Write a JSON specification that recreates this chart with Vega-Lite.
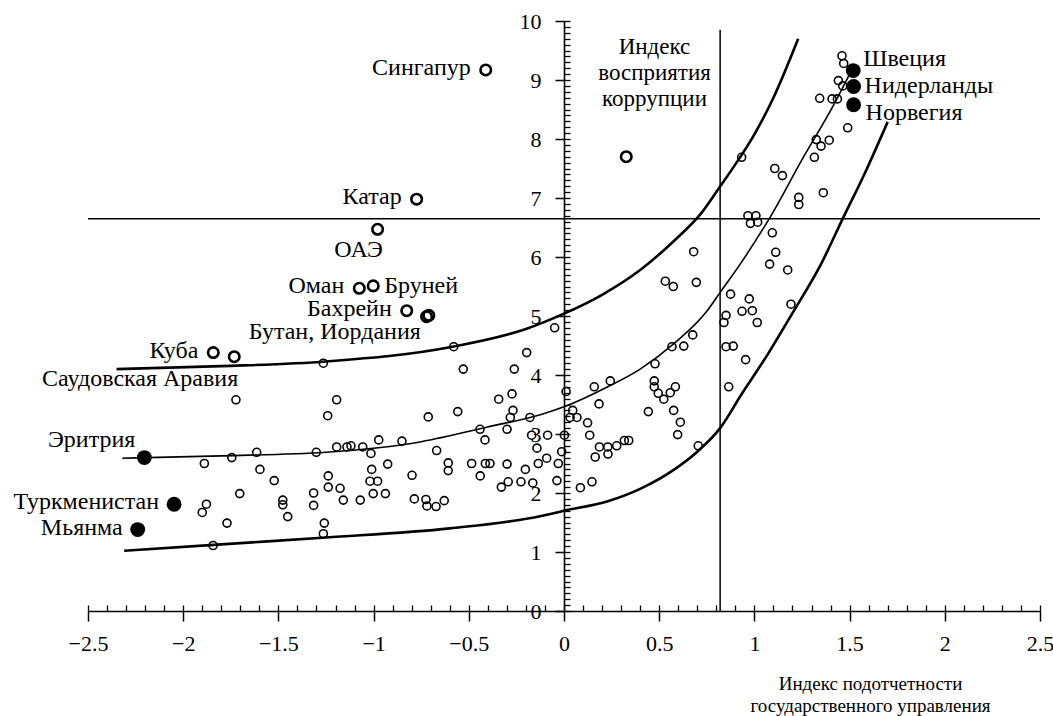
{
  "$schema": "https://vega.github.io/schema/vega-lite/v6.json",
  "width": 952,
  "height": 590,
  "autosize": {"type": "none"},
  "padding": {"left": 88, "top": 21, "right": 13, "bottom": 105},
  "background": "white",
  "config": {"view": {"stroke": null}},
  "datasets": {
    "pts": [
      {"x": -0.411, "y": 9.17, "k": "b", "label": "Сингапур"},
      {"x": 0.327, "y": 7.70, "k": "b"},
      {"x": -0.774, "y": 6.98, "k": "b", "label": "Катар"},
      {"x": -0.979, "y": 6.47, "k": "b", "label": "ОАЭ"},
      {"x": -1.075, "y": 5.47, "k": "b", "label": "Оман"},
      {"x": -1.002, "y": 5.51, "k": "b", "label": "Бруней"},
      {"x": -0.826, "y": 5.09, "k": "b", "label": "Бахрейн"},
      {"x": -0.722, "y": 4.99, "k": "b"},
      {"x": -0.710, "y": 5.01, "k": "b", "label": "Бутан, Иордания"},
      {"x": -1.842, "y": 4.38, "k": "b", "label": "Куба"},
      {"x": -1.732, "y": 4.31, "k": "b", "label": "Саудовская Аравия"},
      {"x": -2.204, "y": 2.60, "k": "f", "label": "Эритрия"},
      {"x": -2.048, "y": 1.81, "k": "f", "label": "Туркменистан"},
      {"x": -2.239, "y": 1.38, "k": "f", "label": "Мьянма"},
      {"x": 1.519, "y": 9.16, "k": "f", "label": "Швеция"},
      {"x": 1.521, "y": 8.89, "k": "f", "label": "Нидерланды"},
      {"x": 1.521, "y": 8.58, "k": "f", "label": "Норвегия"},
      {"x": -1.264, "y": 4.20, "k": "s"},
      {"x": -1.723, "y": 3.58, "k": "s"},
      {"x": -1.241, "y": 3.31, "k": "s"},
      {"x": -1.889, "y": 2.50, "k": "s"},
      {"x": -1.745, "y": 2.60, "k": "s"},
      {"x": -1.614, "y": 2.69, "k": "s"},
      {"x": -1.301, "y": 2.69, "k": "s"},
      {"x": -1.597, "y": 2.40, "k": "s"},
      {"x": -1.522, "y": 2.21, "k": "s"},
      {"x": -1.238, "y": 2.29, "k": "s"},
      {"x": -1.238, "y": 2.10, "k": "s"},
      {"x": -1.703, "y": 1.99, "k": "s"},
      {"x": -1.477, "y": 1.88, "k": "s"},
      {"x": -1.477, "y": 1.80, "k": "s"},
      {"x": -1.451, "y": 1.60, "k": "s"},
      {"x": -1.315, "y": 2.00, "k": "s"},
      {"x": -1.315, "y": 1.79, "k": "s"},
      {"x": -1.878, "y": 1.81, "k": "s"},
      {"x": -1.900, "y": 1.67, "k": "s"},
      {"x": -1.770, "y": 1.49, "k": "s"},
      {"x": -1.259, "y": 1.49, "k": "s"},
      {"x": -1.264, "y": 1.31, "k": "s"},
      {"x": -1.843, "y": 1.11, "k": "s"},
      {"x": -0.579, "y": 4.48, "k": "s"},
      {"x": -0.196, "y": 4.38, "k": "s"},
      {"x": -0.529, "y": 4.10, "k": "s"},
      {"x": -0.261, "y": 4.10, "k": "s"},
      {"x": -1.194, "y": 3.58, "k": "s"},
      {"x": -0.713, "y": 3.29, "k": "s"},
      {"x": -0.558, "y": 3.38, "k": "s"},
      {"x": -0.343, "y": 3.59, "k": "s"},
      {"x": -0.273, "y": 3.68, "k": "s"},
      {"x": -0.268, "y": 3.40, "k": "s"},
      {"x": -0.282, "y": 3.28, "k": "s"},
      {"x": -0.179, "y": 3.28, "k": "s"},
      {"x": -0.441, "y": 3.08, "k": "s"},
      {"x": -0.299, "y": 3.08, "k": "s"},
      {"x": -0.415, "y": 2.90, "k": "s"},
      {"x": -0.170, "y": 2.98, "k": "s"},
      {"x": -0.086, "y": 2.98, "k": "s"},
      {"x": 0.011, "y": 3.72, "k": "s"},
      {"x": 0.002, "y": 2.98, "k": "s"},
      {"x": -1.194, "y": 2.78, "k": "s"},
      {"x": -1.140, "y": 2.78, "k": "s"},
      {"x": -1.119, "y": 2.80, "k": "s"},
      {"x": -1.057, "y": 2.78, "k": "s"},
      {"x": -1.014, "y": 2.67, "k": "s"},
      {"x": -0.973, "y": 2.90, "k": "s"},
      {"x": -0.851, "y": 2.88, "k": "s"},
      {"x": -0.669, "y": 2.72, "k": "s"},
      {"x": -0.608, "y": 2.51, "k": "s"},
      {"x": -0.608, "y": 2.38, "k": "s"},
      {"x": -0.485, "y": 2.50, "k": "s"},
      {"x": -0.413, "y": 2.50, "k": "s"},
      {"x": -0.389, "y": 2.50, "k": "s"},
      {"x": -0.299, "y": 2.49, "k": "s"},
      {"x": -0.203, "y": 2.40, "k": "s"},
      {"x": -0.135, "y": 2.50, "k": "s"},
      {"x": -0.091, "y": 2.59, "k": "s"},
      {"x": -0.142, "y": 2.76, "k": "s"},
      {"x": -0.030, "y": 2.50, "k": "s"},
      {"x": -0.012, "y": 2.70, "k": "s"},
      {"x": -0.037, "y": 2.21, "k": "s"},
      {"x": -0.440, "y": 2.29, "k": "s"},
      {"x": -0.329, "y": 2.10, "k": "s"},
      {"x": -0.293, "y": 2.19, "k": "s"},
      {"x": -0.226, "y": 2.19, "k": "s"},
      {"x": -0.164, "y": 2.17, "k": "s"},
      {"x": -1.176, "y": 2.08, "k": "s"},
      {"x": -1.159, "y": 1.88, "k": "s"},
      {"x": -1.010, "y": 2.40, "k": "s"},
      {"x": -1.019, "y": 2.20, "k": "s"},
      {"x": -0.979, "y": 2.20, "k": "s"},
      {"x": -0.926, "y": 2.49, "k": "s"},
      {"x": -1.002, "y": 1.99, "k": "s"},
      {"x": -0.938, "y": 1.99, "k": "s"},
      {"x": -1.070, "y": 1.88, "k": "s"},
      {"x": -0.798, "y": 2.30, "k": "s"},
      {"x": -0.786, "y": 1.90, "k": "s"},
      {"x": -0.725, "y": 1.89, "k": "s"},
      {"x": -0.720, "y": 1.78, "k": "s"},
      {"x": -0.672, "y": 1.77, "k": "s"},
      {"x": -0.629, "y": 1.87, "k": "s"},
      {"x": 0.681, "y": 6.09, "k": "s"},
      {"x": 0.532, "y": 5.59, "k": "s"},
      {"x": 0.574, "y": 5.50, "k": "s"},
      {"x": 0.695, "y": 5.57, "k": "s"},
      {"x": -0.049, "y": 4.80, "k": "s"},
      {"x": 0.676, "y": 4.68, "k": "s"},
      {"x": 0.567, "y": 4.48, "k": "s"},
      {"x": 0.629, "y": 4.49, "k": "s"},
      {"x": 0.478, "y": 4.19, "k": "s"},
      {"x": 0.243, "y": 3.90, "k": "s"},
      {"x": 0.159, "y": 3.80, "k": "s"},
      {"x": 0.474, "y": 3.90, "k": "s"},
      {"x": 0.474, "y": 3.80, "k": "s"},
      {"x": 0.495, "y": 3.69, "k": "s"},
      {"x": 0.524, "y": 3.59, "k": "s"},
      {"x": 0.558, "y": 3.70, "k": "s"},
      {"x": 0.585, "y": 3.80, "k": "s"},
      {"x": 0.184, "y": 3.51, "k": "s"},
      {"x": 0.046, "y": 3.40, "k": "s"},
      {"x": 0.032, "y": 3.28, "k": "s"},
      {"x": 0.068, "y": 3.28, "k": "s"},
      {"x": 0.443, "y": 3.38, "k": "s"},
      {"x": 0.576, "y": 3.40, "k": "s"},
      {"x": 0.124, "y": 3.19, "k": "s"},
      {"x": 0.611, "y": 3.20, "k": "s"},
      {"x": 0.135, "y": 2.98, "k": "s"},
      {"x": 0.597, "y": 2.99, "k": "s"},
      {"x": 0.186, "y": 2.78, "k": "s"},
      {"x": 0.230, "y": 2.78, "k": "s"},
      {"x": 0.277, "y": 2.80, "k": "s"},
      {"x": 0.317, "y": 2.89, "k": "s"},
      {"x": 0.340, "y": 2.89, "k": "s"},
      {"x": 0.231, "y": 2.66, "k": "s"},
      {"x": 0.164, "y": 2.61, "k": "s"},
      {"x": 0.705, "y": 2.80, "k": "s"},
      {"x": 0.086, "y": 2.09, "k": "s"},
      {"x": 0.147, "y": 2.19, "k": "s"},
      {"x": 0.840, "y": 4.89, "k": "s"},
      {"x": 0.851, "y": 5.01, "k": "s"},
      {"x": 0.875, "y": 5.37, "k": "s"},
      {"x": 0.935, "y": 5.08, "k": "s"},
      {"x": 0.973, "y": 5.29, "k": "s"},
      {"x": 0.989, "y": 5.09, "k": "s"},
      {"x": 1.015, "y": 4.89, "k": "s"},
      {"x": 0.851, "y": 4.48, "k": "s"},
      {"x": 0.889, "y": 4.49, "k": "s"},
      {"x": 0.954, "y": 4.26, "k": "s"},
      {"x": 0.865, "y": 3.80, "k": "s"},
      {"x": 1.094, "y": 6.41, "k": "s"},
      {"x": 1.112, "y": 6.08, "k": "s"},
      {"x": 1.080, "y": 5.88, "k": "s"},
      {"x": 1.175, "y": 5.78, "k": "s"},
      {"x": 1.192, "y": 5.20, "k": "s"},
      {"x": 1.460, "y": 9.41, "k": "s"},
      {"x": 1.469, "y": 9.28, "k": "s"},
      {"x": 1.441, "y": 8.99, "k": "s"},
      {"x": 1.464, "y": 8.90, "k": "s"},
      {"x": 1.343, "y": 8.69, "k": "s"},
      {"x": 1.408, "y": 8.68, "k": "s"},
      {"x": 1.436, "y": 8.68, "k": "s"},
      {"x": 1.490, "y": 8.19, "k": "s"},
      {"x": 1.325, "y": 7.99, "k": "s"},
      {"x": 1.393, "y": 7.98, "k": "s"},
      {"x": 1.350, "y": 7.88, "k": "s"},
      {"x": 1.315, "y": 7.69, "k": "s"},
      {"x": 1.362, "y": 7.09, "k": "s"},
      {"x": 0.933, "y": 7.69, "k": "s"},
      {"x": 1.107, "y": 7.50, "k": "s"},
      {"x": 1.147, "y": 7.38, "k": "s"},
      {"x": 1.233, "y": 7.01, "k": "s"},
      {"x": 1.233, "y": 6.89, "k": "s"},
      {"x": 0.966, "y": 6.70, "k": "s"},
      {"x": 1.008, "y": 6.70, "k": "s"},
      {"x": 0.979, "y": 6.57, "k": "s"},
      {"x": 1.017, "y": 6.59, "k": "s"}
    ],
    "curves": [
      {"c": "upper", "x": -2.35, "y": 4.10},
      {"c": "upper", "x": -1.8, "y": 4.15},
      {"c": "upper", "x": -1.25, "y": 4.23},
      {"c": "upper", "x": -0.6, "y": 4.47},
      {"c": "upper", "x": -0.2, "y": 4.78},
      {"c": "upper", "x": 0.0, "y": 5.04},
      {"c": "upper", "x": 0.2, "y": 5.36},
      {"c": "upper", "x": 0.4, "y": 5.78},
      {"c": "upper", "x": 0.58, "y": 6.28},
      {"c": "upper", "x": 0.72, "y": 6.74},
      {"c": "upper", "x": 0.81, "y": 7.15},
      {"c": "upper", "x": 0.9, "y": 7.57},
      {"c": "upper", "x": 1.0, "y": 8.08},
      {"c": "upper", "x": 1.1, "y": 8.70},
      {"c": "upper", "x": 1.23, "y": 9.70},
      {"c": "middle", "x": -2.32, "y": 2.59},
      {"c": "middle", "x": -1.8, "y": 2.63},
      {"c": "middle", "x": -1.25, "y": 2.69},
      {"c": "middle", "x": -0.75, "y": 2.87},
      {"c": "middle", "x": -0.4, "y": 3.12},
      {"c": "middle", "x": -0.12, "y": 3.33},
      {"c": "middle", "x": 0.0, "y": 3.46},
      {"c": "middle", "x": 0.23, "y": 3.80},
      {"c": "middle", "x": 0.4, "y": 4.10},
      {"c": "middle", "x": 0.58, "y": 4.54},
      {"c": "middle", "x": 0.75, "y": 5.08},
      {"c": "middle", "x": 0.82, "y": 5.40},
      {"c": "middle", "x": 0.93, "y": 5.90},
      {"c": "middle", "x": 1.04, "y": 6.45},
      {"c": "middle", "x": 1.08, "y": 6.66},
      {"c": "middle", "x": 1.25, "y": 7.65},
      {"c": "middle", "x": 1.42, "y": 8.60},
      {"c": "middle", "x": 1.50, "y": 9.10},
      {"c": "lower", "x": -2.31, "y": 1.02},
      {"c": "lower", "x": -1.8, "y": 1.13},
      {"c": "lower", "x": -1.25, "y": 1.245},
      {"c": "lower", "x": -0.6, "y": 1.40},
      {"c": "lower", "x": -0.12, "y": 1.61},
      {"c": "lower", "x": 0.0, "y": 1.70},
      {"c": "lower", "x": 0.23, "y": 1.86},
      {"c": "lower", "x": 0.4, "y": 2.07},
      {"c": "lower", "x": 0.58, "y": 2.40},
      {"c": "lower", "x": 0.7, "y": 2.70},
      {"c": "lower", "x": 0.82, "y": 3.10},
      {"c": "lower", "x": 0.93, "y": 3.66},
      {"c": "lower", "x": 1.07, "y": 4.35},
      {"c": "lower", "x": 1.2, "y": 5.05},
      {"c": "lower", "x": 1.35, "y": 5.88},
      {"c": "lower", "x": 1.464, "y": 6.65},
      {"c": "lower", "x": 1.58, "y": 7.42},
      {"c": "lower", "x": 1.70, "y": 8.29}
    ]
  },
  "resolve": {"scale": {"x": "independent", "y": "independent"}},
  "layer": [
    {
      "data": {"name": "pts"},
      "transform": [{"filter": "datum.k === 's'"}],
      "mark": {"type": "point", "shape": "circle", "filled": false, "size": 64, "strokeWidth": 1.6, "color": "black", "opacity": 1},
      "encoding": {
        "x": {"field": "x", "type": "quantitative",
          "scale": {"domain": [-2.5, 2.5], "nice": false, "zero": false},
          "axis": {"orient": "bottom", "values": [-2.5, -2, -1.5, -1, -0.5, 0, 0.5, 1, 1.5, 2, 2.5], "format": "~g",
            "grid": false, "domainColor": "black", "domainWidth": 1.6, "tickColor": "black", "tickWidth": 1.5, "tickSize": 10,
            "labelFont": "Liberation Serif", "labelFontSize": 22, "labelColor": "black", "labelPadding": 12,
            "labelFlush": false, "labelOverlap": false,
            "title": ["Индекс подотчетности", "государственного управления"],
            "titleFont": "Liberation Serif", "titleFontSize": 19, "titleFontWeight": "normal", "titleColor": "black",
            "titleX": 782, "titleY": 63, "titleAlign": "center", "titleBaseline": "top", "titleLineHeight": 22}},
        "y": {"field": "y", "type": "quantitative",
          "scale": {"domain": [0, 10], "nice": false, "zero": false},
          "axis": {"orient": "left", "offset": -476, "values": [0, 1, 2, 3, 4, 5, 6, 7, 8, 9, 10], "format": "d",
            "grid": false, "domainColor": "black", "domainWidth": 1.6, "tickColor": "black", "tickWidth": 1.5, "tickSize": 9,
            "labelFont": "Liberation Serif", "labelFontSize": 22, "labelColor": "black", "labelPadding": 14,
            "labelFlush": false, "labelOverlap": false,
            "title": ["Индекс", "восприятия", "коррупции"],
            "titleFont": "Liberation Serif", "titleFontSize": 23, "titleFontWeight": "normal", "titleColor": "black",
            "titleAngle": 0, "titleX": 90, "titleY": 14, "titleAlign": "center", "titleBaseline": "top", "titleLineHeight": 26}}
      }
    },
    {
      "data": {"name": "curves"},
      "mark": {"type": "line", "interpolate": "monotone", "color": "black"},
      "encoding": {
        "x": {"field": "x", "type": "quantitative",
          "scale": {"domain": [-2.5, 2.5], "nice": false, "zero": false},
          "axis": {"orient": "top", "offset": -590, "tickCount": 50, "labels": false, "domain": false, "grid": false,
            "tickColor": "black", "tickWidth": 1.3, "tickSize": 6, "title": null}},
        "y": {"field": "y", "type": "quantitative",
          "scale": {"domain": [0, 10], "nice": false, "zero": false},
          "axis": {"orient": "right", "offset": -476, "tickCount": 100, "labels": false, "domain": false, "grid": false,
            "tickColor": "black", "tickWidth": 1.3, "tickSize": 6, "title": null}},
        "detail": {"field": "c"},
        "strokeWidth": {"field": "c", "type": "nominal", "scale": {"type": "ordinal", "domain": ["upper", "middle", "lower"], "range": [2.6, 1.6, 2.6]}, "legend": null}
      }
    },
    {
      "data": {"values": [{"v": 0.82, "lo": 0, "hi": 9.85}]},
      "mark": {"type": "rule", "color": "black", "strokeWidth": 1.5},
      "encoding": {
        "x": {"field": "v", "type": "quantitative", "scale": {"domain": [-2.5, 2.5], "nice": false, "zero": false}, "axis": null},
        "y": {"field": "lo", "type": "quantitative", "scale": {"domain": [0, 10], "nice": false, "zero": false}, "axis": null},
        "y2": {"field": "hi"}
      }
    },
    {
      "data": {"values": [{"v": 6.65}]},
      "mark": {"type": "rule", "color": "black", "strokeWidth": 1.5},
      "encoding": {
        "y": {"field": "v", "type": "quantitative", "scale": {"domain": [0, 10], "nice": false, "zero": false}, "axis": null}
      }
    },
    {
      "data": {"name": "pts"},
      "transform": [{"filter": "datum.k === 'b'"}],
      "mark": {"type": "point", "shape": "circle", "filled": false, "size": 110, "strokeWidth": 2.6, "color": "black", "opacity": 1},
      "encoding": {
        "x": {"field": "x", "type": "quantitative", "scale": {"domain": [-2.5, 2.5], "nice": false, "zero": false}, "axis": null},
        "y": {"field": "y", "type": "quantitative", "scale": {"domain": [0, 10], "nice": false, "zero": false}, "axis": null}
      }
    },
    {
      "data": {"name": "pts"},
      "transform": [{"filter": "datum.k === 'f'"}],
      "mark": {"type": "point", "shape": "circle", "filled": true, "size": 220, "color": "black", "opacity": 1},
      "encoding": {
        "x": {"field": "x", "type": "quantitative", "scale": {"domain": [-2.5, 2.5], "nice": false, "zero": false}, "axis": null},
        "y": {"field": "y", "type": "quantitative", "scale": {"domain": [0, 10], "nice": false, "zero": false}, "axis": null}
      }
    },
    {
      "data": {"name": "pts"},
      "transform": [{"filter": {"field": "label", "oneOf": ["Сингапур", "Катар", "Оман", "Бахрейн", "Куба", "Туркменистан", "Мьянма"]}}],
      "mark": {"type": "text", "font": "Liberation Serif", "fontSize": 24, "align": "right", "baseline": "middle", "dx": -15, "dy": -2, "color": "black"},
      "encoding": {
        "x": {"field": "x", "type": "quantitative", "scale": {"domain": [-2.5, 2.5], "nice": false, "zero": false}, "axis": null},
        "y": {"field": "y", "type": "quantitative", "scale": {"domain": [0, 10], "nice": false, "zero": false}, "axis": null},
        "text": {"field": "label"}
      }
    },
    {
      "data": {"name": "pts"},
      "transform": [{"filter": {"field": "label", "oneOf": ["Бруней", "Нидерланды"]}}],
      "mark": {"type": "text", "font": "Liberation Serif", "fontSize": 24, "align": "left", "baseline": "middle", "dx": 11, "dy": 0, "color": "black"},
      "encoding": {
        "x": {"field": "x", "type": "quantitative", "scale": {"domain": [-2.5, 2.5], "nice": false, "zero": false}, "axis": null},
        "y": {"field": "y", "type": "quantitative", "scale": {"domain": [0, 10], "nice": false, "zero": false}, "axis": null},
        "text": {"field": "label"}
      }
    },
    {
      "data": {"name": "pts"},
      "transform": [{"filter": {"field": "label", "equal": "Швеция"}}],
      "mark": {"type": "text", "font": "Liberation Serif", "fontSize": 24, "align": "left", "baseline": "middle", "dx": 10, "dy": -12, "color": "black"},
      "encoding": {
        "x": {"field": "x", "type": "quantitative", "scale": {"domain": [-2.5, 2.5], "nice": false, "zero": false}, "axis": null},
        "y": {"field": "y", "type": "quantitative", "scale": {"domain": [0, 10], "nice": false, "zero": false}, "axis": null},
        "text": {"field": "label"}
      }
    },
    {
      "data": {"name": "pts"},
      "transform": [{"filter": {"field": "label", "equal": "Норвегия"}}],
      "mark": {"type": "text", "font": "Liberation Serif", "fontSize": 24, "align": "left", "baseline": "middle", "dx": 12, "dy": 8, "color": "black"},
      "encoding": {
        "x": {"field": "x", "type": "quantitative", "scale": {"domain": [-2.5, 2.5], "nice": false, "zero": false}, "axis": null},
        "y": {"field": "y", "type": "quantitative", "scale": {"domain": [0, 10], "nice": false, "zero": false}, "axis": null},
        "text": {"field": "label"}
      }
    },
    {
      "data": {"name": "pts"},
      "transform": [{"filter": {"field": "label", "equal": "ОАЭ"}}],
      "mark": {"type": "text", "font": "Liberation Serif", "fontSize": 24, "align": "center", "baseline": "middle", "dx": -19, "dy": 21, "color": "black"},
      "encoding": {
        "x": {"field": "x", "type": "quantitative", "scale": {"domain": [-2.5, 2.5], "nice": false, "zero": false}, "axis": null},
        "y": {"field": "y", "type": "quantitative", "scale": {"domain": [0, 10], "nice": false, "zero": false}, "axis": null},
        "text": {"field": "label"}
      }
    },
    {
      "data": {"name": "pts"},
      "transform": [{"filter": {"field": "label", "equal": "Бутан, Иордания"}}],
      "mark": {"type": "text", "font": "Liberation Serif", "fontSize": 24, "align": "right", "baseline": "middle", "dx": -8, "dy": 17, "color": "black"},
      "encoding": {
        "x": {"field": "x", "type": "quantitative", "scale": {"domain": [-2.5, 2.5], "nice": false, "zero": false}, "axis": null},
        "y": {"field": "y", "type": "quantitative", "scale": {"domain": [0, 10], "nice": false, "zero": false}, "axis": null},
        "text": {"field": "label"}
      }
    },
    {
      "data": {"name": "pts"},
      "transform": [{"filter": {"field": "label", "equal": "Саудовская Аравия"}}],
      "mark": {"type": "text", "font": "Liberation Serif", "fontSize": 24, "align": "right", "baseline": "middle", "dx": 4, "dy": 22, "color": "black"},
      "encoding": {
        "x": {"field": "x", "type": "quantitative", "scale": {"domain": [-2.5, 2.5], "nice": false, "zero": false}, "axis": null},
        "y": {"field": "y", "type": "quantitative", "scale": {"domain": [0, 10], "nice": false, "zero": false}, "axis": null},
        "text": {"field": "label"}
      }
    },
    {
      "data": {"name": "pts"},
      "transform": [{"filter": {"field": "label", "equal": "Эритрия"}}],
      "mark": {"type": "text", "font": "Liberation Serif", "fontSize": 24, "align": "right", "baseline": "middle", "dx": -9, "dy": -18, "color": "black"},
      "encoding": {
        "x": {"field": "x", "type": "quantitative", "scale": {"domain": [-2.5, 2.5], "nice": false, "zero": false}, "axis": null},
        "y": {"field": "y", "type": "quantitative", "scale": {"domain": [0, 10], "nice": false, "zero": false}, "axis": null},
        "text": {"field": "label"}
      }
    }
  ]
}
